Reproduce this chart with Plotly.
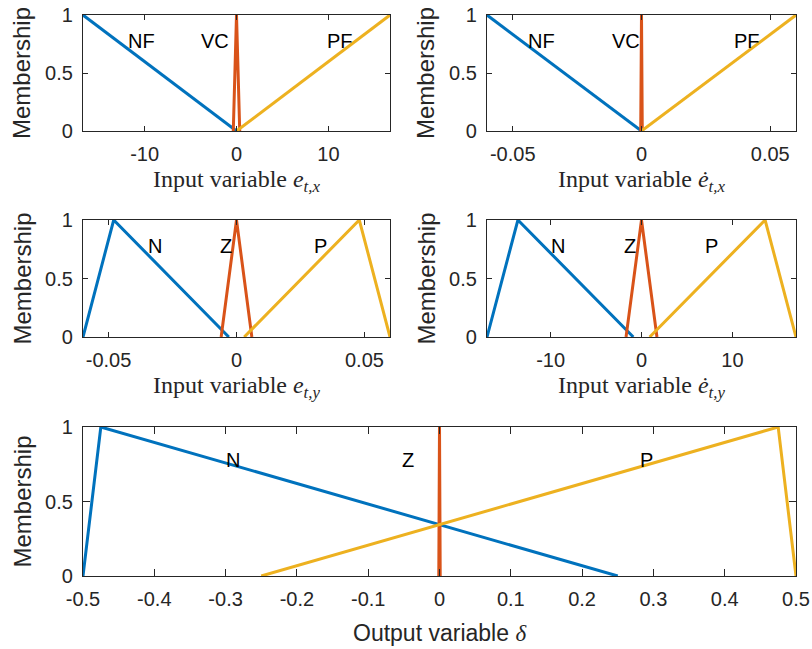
import plotly.graph_objects as go

# ---- membership function data ----
# e_{t,x}
ex_range = [-16.7, 16.7]
ex_nf_x, ex_nf_y = [-16.7, 0], [1, 0]
ex_vc_x, ex_vc_y = [-0.35, 0, 0.35], [0, 1, 0]
ex_pf_x, ex_pf_y = [0, 16.7], [0, 1]
ex_ticks = [-10, 0, 10]
ex_ticktext = ["-10", "0", "10"]

# de_{t,x}
dex_range = [-0.06, 0.06]
dex_nf_x, dex_nf_y = [-0.06, 0], [1, 0]
dex_vc_x, dex_vc_y = [-0.0003, 0, 0.0003], [0, 1, 0]
dex_pf_x, dex_pf_y = [0, 0.06], [0, 1]
dex_ticks = [-0.05, 0, 0.05]
dex_ticktext = ["-0.05", "0", "0.05"]

# e_{t,y}
ey_range = [-0.06, 0.06]
ey_n_x, ey_n_y = [-0.06, -0.048, -0.003], [0, 1, 0]
ey_z_x, ey_z_y = [-0.006, 0, 0.006], [0, 1, 0]
ey_p_x, ey_p_y = [0.003, 0.048, 0.06], [0, 1, 0]
ey_ticks = [-0.05, 0, 0.05]
ey_ticktext = ["-0.05", "0", "0.05"]

# de_{t,y}
dey_range = [-17, 17]
dey_n_x, dey_n_y = [-17, -13.6, -0.9], [0, 1, 0]
dey_z_x, dey_z_y = [-1.7, 0, 1.7], [0, 1, 0]
dey_p_x, dey_p_y = [0.9, 13.6, 17], [0, 1, 0]
dey_ticks = [-10, 0, 10]
dey_ticktext = ["-10", "0", "10"]

# output delta
d_range = [-0.5, 0.5]
d_n_x, d_n_y = [-0.5, -0.475, 0.25], [0, 1, 0]
d_z_x, d_z_y = [-0.001, 0, 0.001], [0, 1, 0]
d_p_x, d_p_y = [-0.25, 0.475, 0.5], [0, 1, 0]
d_ticks = [-0.5, -0.4, -0.3, -0.2, -0.1, 0, 0.1, 0.2, 0.3, 0.4, 0.5]
d_ticktext = ["-0.5", "-0.4", "-0.3", "-0.2", "-0.1", "0", "0.1", "0.2", "0.3", "0.4", "0.5"]

# set labels: (panel, text, x, y)
set_labels = [
    (1, "NF", -10.3, 0.78), (1, "VC", -2.3, 0.78), (1, "PF", 11.3, 0.78),
    (2, "NF", -0.039, 0.78), (2, "VC", -0.006, 0.78), (2, "PF", 0.041, 0.78),
    (3, "N", -0.032, 0.78), (3, "Z", -0.0043, 0.78), (3, "P", 0.033, 0.78),
    (4, "N", -9.2, 0.78), (4, "Z", -1.3, 0.78), (4, "P", 7.7, 0.78),
    (5, "N", -0.289, 0.78), (5, "Z", -0.044, 0.78), (5, "P", 0.29, 0.78),
]

BLUE, ORANGE, YELLOW = "#0072BD", "#D95319", "#EDB120"
AX = "#262626"
SANS = "Liberation Sans, Arial, sans-serif"
SERIF = "Liberation Serif, Times New Roman, serif"

W, H = 812, 649

def px_x(p):
    return p / W

def px_y(p):
    return 1 - p / H

# plot-area boxes in pixels: (left, right, top, bottom)
boxes = {
    1: (83, 390, 15, 131),
    2: (487, 796, 15, 131),
    3: (83, 390, 220, 337),
    4: (487, 796, 220, 337),
    5: (83, 796, 427, 576),
}

panels = {
    1: dict(rng=ex_range, ticks=ex_ticks, tt=ex_ticktext,
            series=[(ex_nf_x, ex_nf_y, BLUE), (ex_vc_x, ex_vc_y, ORANGE), (ex_pf_x, ex_pf_y, YELLOW)]),
    2: dict(rng=dex_range, ticks=dex_ticks, tt=dex_ticktext,
            series=[(dex_nf_x, dex_nf_y, BLUE), (dex_vc_x, dex_vc_y, ORANGE), (dex_pf_x, dex_pf_y, YELLOW)]),
    3: dict(rng=ey_range, ticks=ey_ticks, tt=ey_ticktext,
            series=[(ey_n_x, ey_n_y, BLUE), (ey_z_x, ey_z_y, ORANGE), (ey_p_x, ey_p_y, YELLOW)]),
    4: dict(rng=dey_range, ticks=dey_ticks, tt=dey_ticktext,
            series=[(dey_n_x, dey_n_y, BLUE), (dey_z_x, dey_z_y, ORANGE), (dey_p_x, dey_p_y, YELLOW)]),
    5: dict(rng=d_range, ticks=d_ticks, tt=d_ticktext,
            series=[(d_n_x, d_n_y, BLUE), (d_z_x, d_z_y, ORANGE), (d_p_x, d_p_y, YELLOW)]),
}

fig = go.Figure()
layout = {}
annotations = []

for i, p in panels.items():
    sfx = "" if i == 1 else str(i)
    xref, yref = "x" + sfx, "y" + sfx
    l, r, t, b = boxes[i]
    for xs, ys, col in p["series"]:
        fig.add_trace(go.Scatter(x=xs, y=ys, mode="lines", xaxis=xref, yaxis=yref,
                                 line=dict(color=col, width=3), showlegend=False,
                                 cliponaxis=False, hoverinfo="skip"))
    tl = 7 if i == 5 else 5
    common = dict(showgrid=False, zeroline=False, showline=True, linecolor=AX, linewidth=1.3,
                  mirror="ticks", ticks="inside", ticklen=tl, tickwidth=1.2, tickcolor=AX,
                  tickfont=dict(family=SANS, size=20, color=AX), automargin=False)
    layout["xaxis" + sfx] = dict(common, domain=[px_x(l), px_x(r)], range=p["rng"],
                                 tickvals=p["ticks"], ticktext=p["tt"], anchor=yref,
                                 ticklabelstandoff=5)
    layout["yaxis" + sfx] = dict(common, domain=[px_y(b), px_y(t)], range=[0, 1],
                                 tickvals=[0, 0.5, 1], ticktext=["0", "0.5", "1"], anchor=xref,
                                 ticklabelstandoff=5)
    # y-axis title
    annotations.append(dict(text="Membership", xref="paper", yref="paper",
                            x=px_x(l - 61), y=px_y((t + b) / 2), textangle=-90,
                            showarrow=False, xanchor="center", yanchor="middle",
                            font=dict(family=SANS, size=24, color=AX)))

for panel, txt, x, y in set_labels:
    sfx = "" if panel == 1 else str(panel)
    annotations.append(dict(text=txt, xref="x" + sfx, yref="y" + sfx, x=x, y=y,
                            showarrow=False, xanchor="center", yanchor="middle",
                            font=dict(family=SANS, size=20, color="black")))

# x-axis titles
xtitles = {
    1: ("Input variable <i>e</i><sub><i>t,x</i></sub>", SERIF, 181),
    2: ("Input variable <i>ė</i><sub><i>t,x</i></sub>", SERIF, 181),
    3: ("Input variable <i>e</i><sub><i>t,y</i></sub>", SERIF, 387),
    4: ("Input variable <i>ė</i><sub><i>t,y</i></sub>", SERIF, 387),
    5: ("Output variable <i><span style='font-family:Liberation Serif'>δ</span></i>", SANS, 633),
}
for i, (txt, fam, yc) in xtitles.items():
    l, r, t, b = boxes[i]
    annotations.append(dict(text=txt, xref="paper", yref="paper",
                            x=px_x((l + r) / 2), y=px_y(yc), showarrow=False,
                            xanchor="center", yanchor="middle",
                            font=dict(family=fam, size=24 if fam == SERIF else 23, color=AX)))

fig.update_layout(**layout)
fig.update_layout(width=W, height=H,
                  margin=dict(l=0, r=0, t=0, b=0, pad=0, autoexpand=False),
                  paper_bgcolor="white", plot_bgcolor="white",
                  annotations=annotations, showlegend=False)

fig.write_html("out.html")
